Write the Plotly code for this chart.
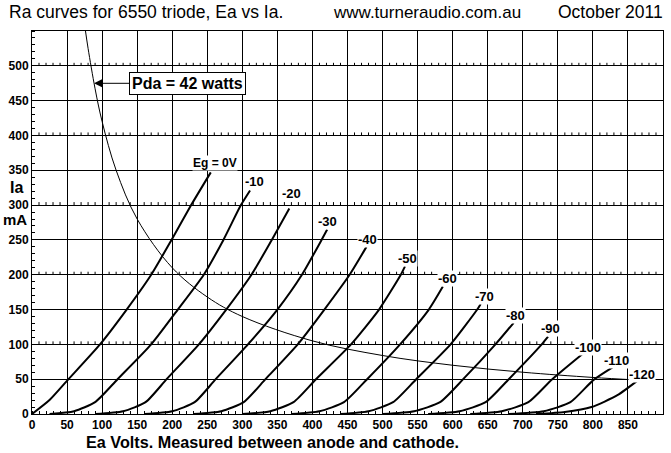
import plotly.graph_objects as go

# ---------------- data ----------------
grid_bias_labels = ["Eg = 0V", "-10", "-20", "-30", "-40", "-50", "-60",
                    "-70", "-80", "-90", "-100", "-110", "-120"]

ea_g0 = [0, 25, 52, 97, 135, 170, 199, 227, 255]
ia_g0 = [0, 20, 50, 100, 150, 200, 250, 300, 347]
ea_g10 = [25, 60, 90, 122, 170, 208, 245, 273, 298, 311]
ia_g10 = [0, 4, 17, 50, 100, 150, 200, 250, 300, 321]
ea_g20 = [90, 130, 162, 192, 238, 277, 313, 342, 367]
ia_g20 = [0, 4, 17, 50, 100, 150, 200, 250, 295]
ea_g30 = [160, 200, 232, 262, 308, 350, 385, 413, 421]
ia_g30 = [0, 4, 17, 50, 100, 150, 200, 250, 265]
ea_g40 = [230, 270, 302, 333, 379, 417, 453, 477]
ia_g40 = [0, 4, 17, 50, 100, 150, 200, 240]
ea_g50 = [300, 340, 373, 405, 455, 495, 526, 532]
ia_g50 = [0, 4, 17, 50, 100, 150, 200, 212]
ea_g60 = [370, 410, 445, 478, 525, 566, 586]
ia_g60 = [0, 4, 17, 50, 100, 150, 183]
ea_g70 = [440, 480, 515, 548, 597, 635, 640]
ia_g70 = [0, 4, 17, 50, 100, 150, 158]
ea_g80 = [500, 545, 582, 615, 661, 687]
ia_g80 = [0, 4, 17, 50, 100, 131]
ea_g90 = [565, 610, 647, 680, 727, 736]
ia_g90 = [0, 4, 17, 50, 100, 111]
ea_g100 = [625, 670, 708, 742, 786]
ia_g100 = [0, 4, 17, 50, 87]
ea_g110 = [680, 730, 768, 801, 828]
ia_g110 = [0, 4, 17, 49, 67]
ea_g120 = [720, 760, 798, 835, 865]
ia_g120 = [0, 3, 10, 27, 49]

# Pda = 42 W dissipation curve
ea_pda = [76, 80, 90, 100, 120, 150, 200, 250, 300, 400, 500, 600, 700, 800, 860]
ia_pda = [552, 525, 467, 420, 350, 280, 210, 168, 140, 105, 84, 70, 60, 52.5, 49]

x_ticks = list(range(0, 851, 50))
y_ticks = list(range(0, 501, 50))

curves_ea = [ea_g0, ea_g10, ea_g20, ea_g30, ea_g40, ea_g50, ea_g60,
             ea_g70, ea_g80, ea_g90, ea_g100, ea_g110, ea_g120]
curves_ia = [ia_g0, ia_g10, ia_g20, ia_g30, ia_g40, ia_g50, ia_g60,
             ia_g70, ia_g80, ia_g90, ia_g100, ia_g110, ia_g120]

# ---------------- layout geometry ----------------
W, H = 671, 453
ML, MR, MT, MB = 32, 8, 31, 39
PW, PH = W - ML - MR, H - MT - MB
XMAX, YMAX = 900, 550


def px2data(px, py):
    return (px - ML) / PW * XMAX, (H - MB - py) / PH * YMAX


def px2paper(px, py):
    return (px - ML) / PW, (H - MB - py) / PH


# label centre positions in pixels
label_px = [(215, 163), (254, 181), (291, 193), (327, 221), (367, 239),
            (407, 258), (447, 278), (484, 296), (515, 315), (550, 328),
            (588, 347), (616, 360), (642, 374)]

fig = go.Figure()

# minor tick marks on the 100 mA grid lines
tick_len = 3 / PH * YMAX
tx, ty = [], []
for yv in range(100, 501, 100):
    for xv in range(10, XMAX, 10):
        if xv % 50:
            tx += [xv, xv, None]
            ty += [yv, yv + tick_len, None]
fig.add_trace(go.Scatter(x=tx, y=ty, mode="lines",
                         line=dict(color="black", width=1),
                         hoverinfo="skip", showlegend=False))

# Pda curve
fig.add_trace(go.Scatter(x=ea_pda, y=ia_pda, mode="lines",
                         line=dict(color="black", width=1, shape="spline"),
                         hoverinfo="skip", showlegend=False))

for ea, ia in zip(curves_ea, curves_ia):
    fig.add_trace(go.Scatter(x=ea, y=ia, mode="lines",
                             line=dict(color="black", width=2,
                                       shape="spline", smoothing=0.6),
                             hoverinfo="skip", showlegend=False))

FONT = "Liberation Sans, Arial"
ann = []
for i, (txt, (px, py)) in enumerate(zip(grid_bias_labels, label_px)):
    x, y = px2data(px, py)
    ann.append(dict(x=x, y=y, xref="x", yref="y", text=txt, showarrow=False,
                    font=dict(family=FONT, size=12 if i == 0 else 13,
                              color="black", weight="bold"),
                    bgcolor="white", borderpad=0))

# Pda label with arrow
tipx, tipy = px2data(94, 83.3)
ann.append(dict(x=tipx, y=tipy, xref="x", yref="y", text="Pda = 42 watts",
                showarrow=True, ax=93, ay=0, arrowhead=2, arrowsize=1.6,
                arrowwidth=1, arrowcolor="black",
                font=dict(family=FONT, size=16, color="black", weight="bold"),
                bgcolor="white", bordercolor="black", borderwidth=1,
                borderpad=2))


def paper_text(txt, px, py, size, bold, anchor="left"):
    xp, yp = px2paper(px, py)
    return dict(x=xp, y=yp, xref="paper", yref="paper", text=txt,
                showarrow=False, xanchor=anchor, yanchor="middle",
                font=dict(family=FONT, size=size, color="black",
                          weight="bold" if bold else "normal"))


ann.append(paper_text("Ra curves for 6550 triode, Ea vs Ia.", 7, 12, 17.5, False))
ann.append(paper_text("www.turneraudio.com.au", 331, 12, 17, False))
ann.append(paper_text("October 2011", 556, 12, 17.5, False))
ann.append(paper_text("Ia", 16.5, 187, 16, True, "center"))
ann.append(paper_text("mA", 15, 219, 15, True, "center"))
ann.append(paper_text("Ea Volts. Measured between anode and cathode.",
                      84, 441.5, 16.2, True))

axis_font = dict(family=FONT, size=12, color="black", weight="bold")
fig.update_layout(
    width=W, height=H,
    margin=dict(l=ML, r=MR, t=MT, b=MB, pad=0, autoexpand=False),
    paper_bgcolor="white", plot_bgcolor="white",
    showlegend=False, hovermode=False,
    annotations=ann,
    xaxis=dict(range=[0, XMAX], tickvals=x_ticks, ticks="", automargin=False,
               showgrid=True, gridcolor="black", gridwidth=1,
               showline=True, linecolor="black", linewidth=1, mirror=True,
               zeroline=False, tickfont=axis_font, ticklabelstandoff=0,
               minor=dict(ticks="inside", dtick=10, ticklen=3,
                          tickcolor="black", tickwidth=1, showgrid=False)),
    yaxis=dict(range=[0, YMAX], tickvals=y_ticks, ticks="", automargin=False,
               showgrid=True, gridcolor="black", gridwidth=1,
               showline=True, linecolor="black", linewidth=1, mirror=True,
               zeroline=False, tickfont=axis_font, ticklabelstandoff=0,
               minor=dict(ticks="inside", dtick=10, ticklen=3,
                          tickcolor="black", tickwidth=1, showgrid=False)),
)

# remove the browser's default 8px page margin so the figure sits at (0, 0)
fig.write_html("out.html",
               config={"displayModeBar": False},
               post_script="document.body.style.margin='0';"
                           "document.body.style.padding='0';")
